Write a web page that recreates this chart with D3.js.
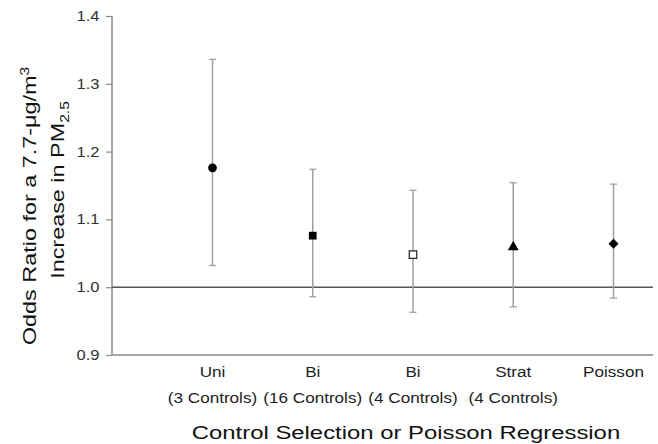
<!DOCTYPE html>
<html>
<head>
<meta charset="utf-8">
<script src="https://cdn.jsdelivr.net/npm/d3@7"></script>
<style>
  html, body { margin: 0; padding: 0; background: #fff; }
  svg { display: block; font-family: "Liberation Sans", Arial, Helvetica, sans-serif; }
</style>
</head>
<body>
<svg id="chart" width="658" height="444"></svg>
<script>
// Odds ratios with 95% confidence intervals by control-selection method
const categories = ["Uni", "Bi16", "Bi4", "Strat", "Poisson"];
const labelLine1 = ["Uni", "Bi", "Bi", "Strat", "Poisson"];
const labelLine2 = ["(3 Controls)", "(16 Controls)", "(4 Controls)", "(4 Controls)", ""];
const estimates = [1.176, 1.076, 1.048, 1.059, 1.064];
const lowerCI   = [1.032, 0.986, 0.963, 0.971, 0.984];
const upperCI   = [1.336, 1.174, 1.143, 1.154, 1.152];
const markers   = ["circle", "square", "openSquare", "triangle", "diamond"];
const yTicks    = [0.9, 1.0, 1.1, 1.2, 1.3, 1.4];

const svg = d3.select("#chart");
const axisX = 112, plotRight = 653, plotTop = 16, plotBottom = 355;

const y = d3.scaleLinear().domain([0.9, 1.4]).range([plotBottom, plotTop]);
const x = d3.scalePoint().domain(categories).range([212.5, 613.5]);

const axisColor = "#8a8a8a";

// text widened along its baseline (wide grotesque face)
function wideText(parent, tx, ty, sx, size, anchor) {
  return parent.append("text")
    .attr("transform", `translate(${tx},${ty}) scale(${sx},1)`)
    .attr("text-anchor", anchor || "middle")
    .style("font-size", size + "px");
}

// y axis
const yAxis = svg.append("g")
  .attr("transform", `translate(${axisX},0)`)
  .call(d3.axisLeft(y).tickValues(yTicks).tickFormat(d3.format(".1f")).tickSize(6));
yAxis.select(".domain").attr("stroke", axisColor).attr("stroke-width", 1.5).attr("d", `M0,${plotTop}V${plotBottom}`);
yAxis.selectAll(".tick line").attr("stroke", axisColor).attr("stroke-width", 1.2);
yAxis.selectAll(".tick text").remove();
yTicks.forEach(v => {
  wideText(svg, 99.5, y(v) + 5, 1.14, 14.5, "end").attr("fill", "#333").text(d3.format(".1f")(v));
});

// x axis baseline
svg.append("line")
  .attr("x1", axisX).attr("x2", plotRight)
  .attr("y1", y(0.9)).attr("y2", y(0.9))
  .attr("stroke", axisColor).attr("stroke-width", 1.5);

// reference line at OR = 1
svg.append("line")
  .attr("x1", axisX).attr("x2", plotRight)
  .attr("y1", y(1.0)).attr("y2", y(1.0))
  .attr("stroke", "#555").attr("stroke-width", 1.4);

// error bars
const bars = svg.append("g");
categories.forEach((c, i) => {
  const cx = x(c);
  bars.append("line")
    .attr("x1", cx).attr("x2", cx)
    .attr("y1", y(upperCI[i])).attr("y2", y(lowerCI[i]))
    .attr("stroke", "#a0a0a0").attr("stroke-width", 1.5);
  [upperCI[i], lowerCI[i]].forEach(v => {
    bars.append("line")
      .attr("x1", cx - 3.5).attr("x2", cx + 3.5)
      .attr("y1", y(v)).attr("y2", y(v))
      .attr("stroke", "#a0a0a0").attr("stroke-width", 1.3);
  });
});

// point estimate markers
const symbolFor = {
  circle:     { type: d3.symbolCircle,   size: 60,  fill: "#000", stroke: "none" },
  square:     { type: d3.symbolSquare,   size: 60,  fill: "#000", stroke: "none" },
  openSquare: { type: d3.symbolSquare,   size: 56,  fill: "#fff", stroke: "#222" },
  triangle:   { type: d3.symbolTriangle, size: 52,  fill: "#000", stroke: "none" },
  diamond:    { type: d3.symbolSquare,   size: 50,  fill: "#000", stroke: "none", rotate: 45 }
};
categories.forEach((c, i) => {
  const s = symbolFor[markers[i]];
  svg.append("path")
    .attr("d", d3.symbol().type(s.type).size(s.size)())
    .attr("transform", `translate(${x(c)},${y(estimates[i])})` + (s.rotate ? ` rotate(${s.rotate})` : ""))
    .attr("fill", s.fill)
    .attr("stroke", s.stroke)
    .attr("stroke-width", 1.2);
});

// category labels
categories.forEach((c, i) => {
  wideText(svg, x(c), 377, 1.18, 14.5).attr("fill", "#222").text(labelLine1[i]);
  if (labelLine2[i]) wideText(svg, x(c), 403, 1.18, 14.5).attr("fill", "#222").text(labelLine2[i]);
});

// x axis title
wideText(svg, 406, 439, 1.29, 18.5).attr("fill", "#111")
  .text("Control Selection or Poisson Regression");

// y axis title (two lines, rotated)
const yTitle = svg.append("g").attr("transform", "translate(0,206) rotate(-90)");
const l1 = yTitle.append("g").attr("transform", "translate(0,36) scale(1.3,1)")
  .append("text").attr("text-anchor", "middle").attr("fill", "#111").style("font-size", "18px");
l1.append("tspan").text("Odds Ratio for a 7.7-\u03BCg/m");
l1.append("tspan").attr("dy", -7).style("font-size", "12px").text("3");
const l2 = yTitle.append("g").attr("transform", "translate(16,64) scale(1.3,1)")
  .append("text").attr("text-anchor", "middle").attr("fill", "#111").style("font-size", "18px");
l2.append("tspan").text("Increase in PM");
l2.append("tspan").attr("dy", 5).style("font-size", "12px").text("2.5");
</script>
</body>
</html>
